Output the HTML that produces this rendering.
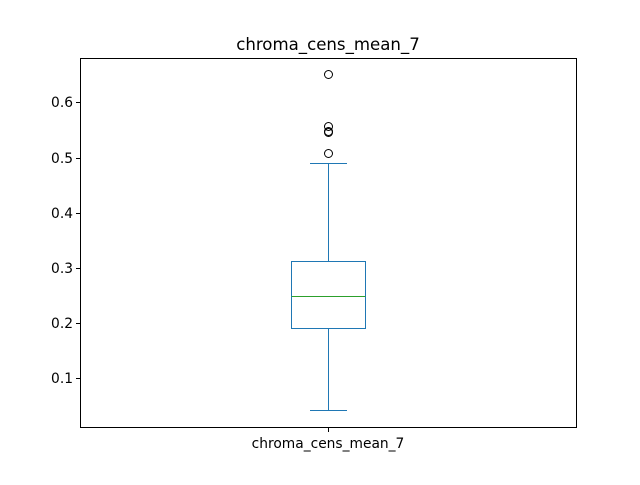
<!DOCTYPE html>
<html><head><style>body{margin:0;background:#fff}</style></head><body>
<svg width="640" height="480" xmlns="http://www.w3.org/2000/svg" font-family="DejaVu Sans, sans-serif">
<rect width="640" height="480" fill="#fff"/>
<text x="328" y="50" font-size="16.6" text-anchor="middle">chroma_cens_mean_7</text>
<g stroke="#1f77b4" stroke-width="1" fill="none">
<rect x="291.5" y="261.5" width="74" height="67"/>
<line x1="328.5" y1="261.5" x2="328.5" y2="163.5"/>
<line x1="328.5" y1="328.5" x2="328.5" y2="410.5"/>
<line x1="310" y1="163.5" x2="347" y2="163.5"/>
<line x1="310" y1="410.5" x2="347" y2="410.5"/>
</g>
<line x1="291.5" y1="296.5" x2="365.5" y2="296.5" stroke="#2ca02c"/>
<g stroke="#000" fill="none">
<circle cx="328.5" cy="74.5" r="4"/>
<circle cx="328.5" cy="126.5" r="4"/>
<circle cx="328.5" cy="131.5" r="4"/>
<circle cx="328.5" cy="132.5" r="4"/>
<circle cx="328.5" cy="153.5" r="4"/>
</g>
<rect x="80.5" y="58.5" width="496" height="369" fill="none" stroke="#000"/>
<g stroke="#000">
<line x1="76" y1="102.5" x2="80" y2="102.5"/>
<line x1="76" y1="158.5" x2="80" y2="158.5"/>
<line x1="76" y1="213.5" x2="80" y2="213.5"/>
<line x1="76" y1="268.5" x2="80" y2="268.5"/>
<line x1="76" y1="323.5" x2="80" y2="323.5"/>
<line x1="76" y1="378.5" x2="80" y2="378.5"/>
<line x1="328.5" y1="428" x2="328.5" y2="432"/>
</g>
<g font-size="13.8" text-anchor="end">
<text x="73" y="107">0.6</text>
<text x="73" y="163">0.5</text>
<text x="73" y="218">0.4</text>
<text x="73" y="273">0.3</text>
<text x="73" y="328">0.2</text>
<text x="73" y="383">0.1</text>
</g>
<text x="328" y="448" font-size="13.8" text-anchor="middle">chroma_cens_mean_7</text>
</svg>
</body></html>
